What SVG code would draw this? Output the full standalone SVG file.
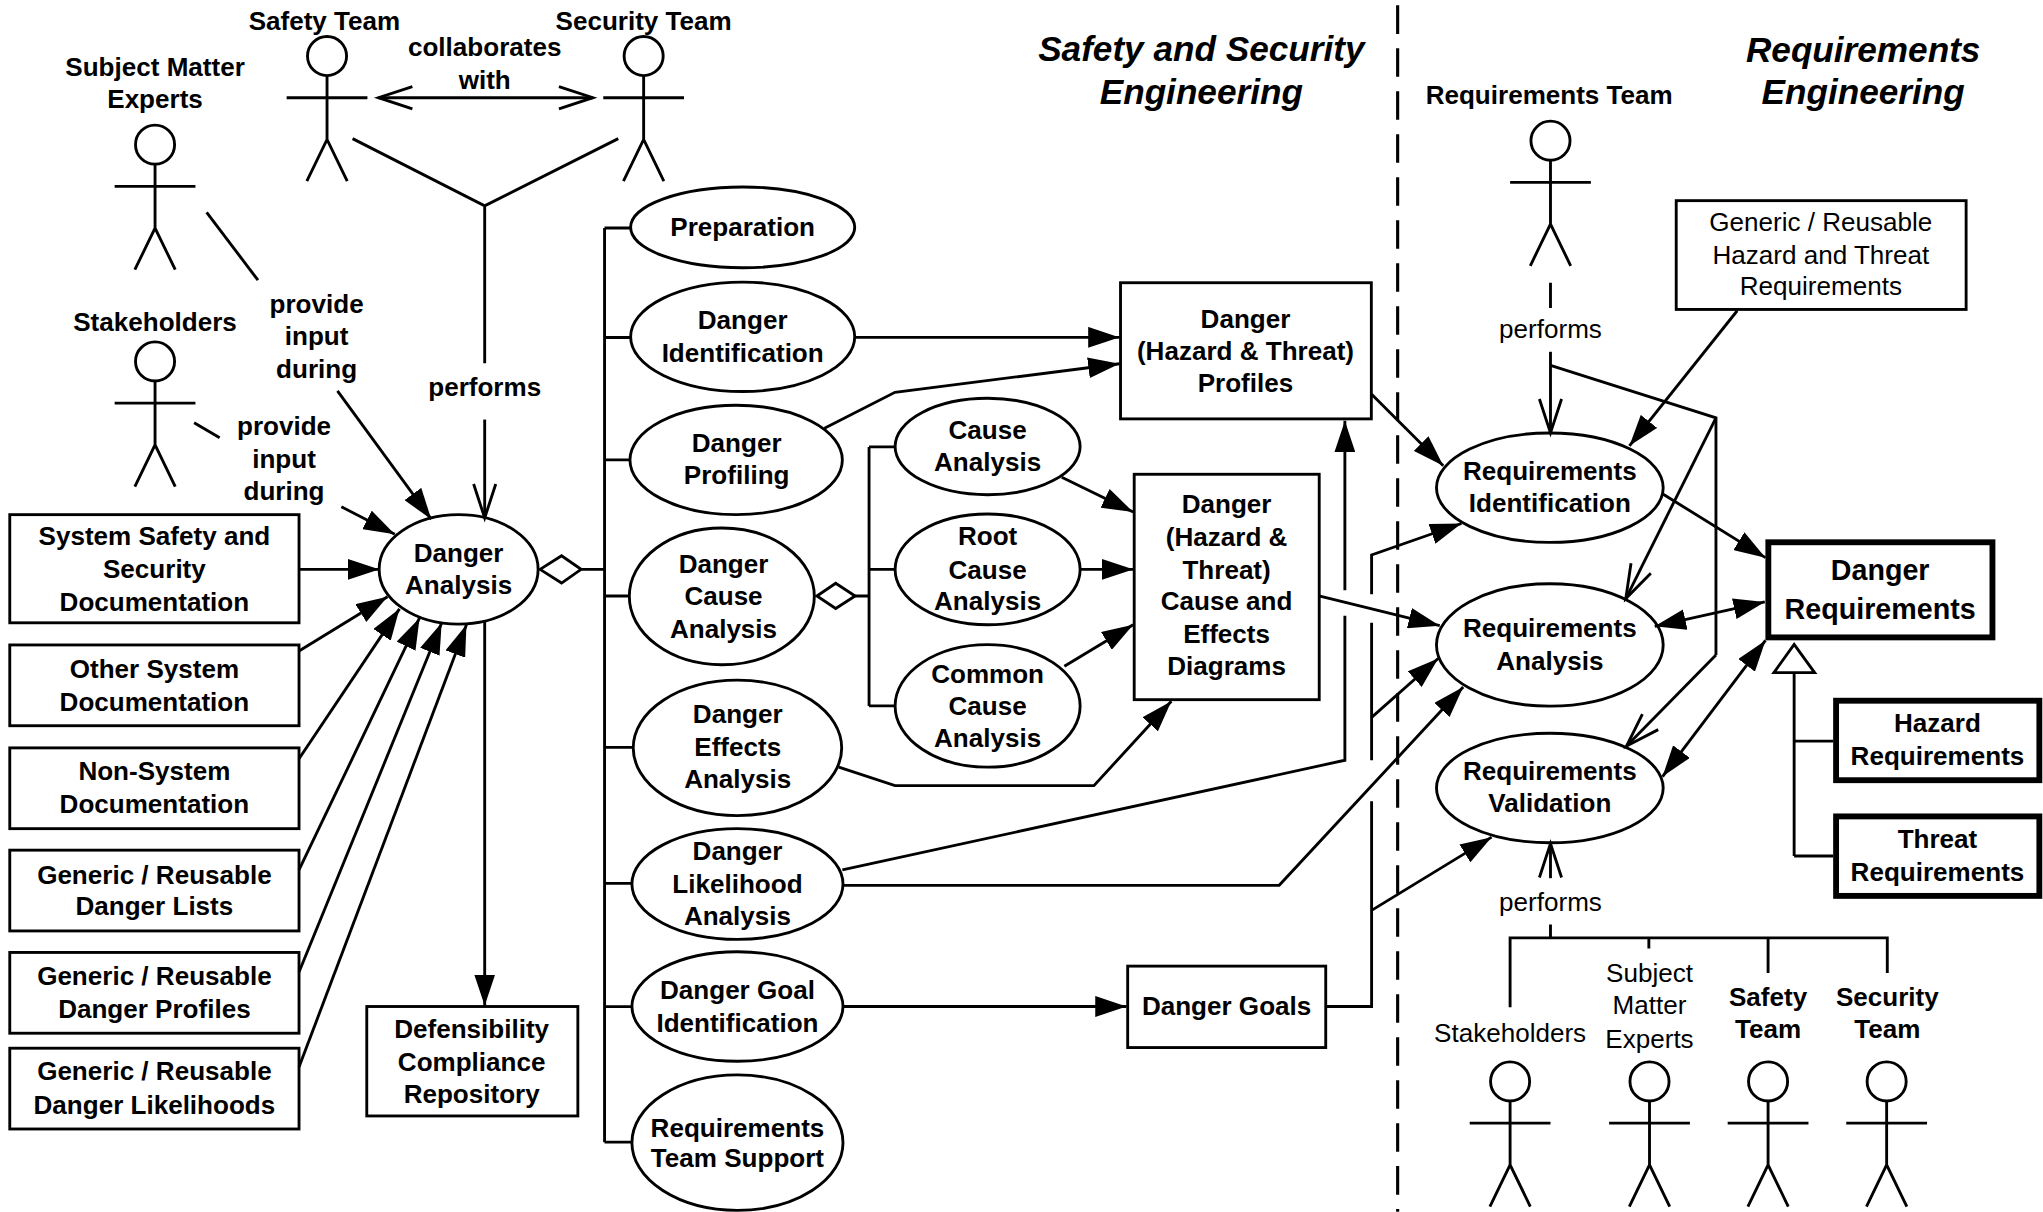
<svg xmlns="http://www.w3.org/2000/svg" width="2043" height="1212" viewBox="0 0 2043 1212">
<style>
.ln{stroke:#000;stroke-width:2.2;fill:none}
.sh{fill:#fff;stroke:#000;stroke-width:2.2}
.thick{fill:#fff;stroke:#000;stroke-width:4.5}
.t{font-family:"Liberation Sans",Arial,sans-serif;font-size:20px;font-weight:bold;text-anchor:middle;fill:#000}
.r{font-weight:normal}
.big{font-size:22px}
.title{font-size:27px;font-style:italic}
.dash{stroke:#000;stroke-width:2.4;fill:none;stroke-dasharray:22 11}
.fa{marker-end:url(#fa)}
.oa{marker-end:url(#oa)}
</style>
<defs>
<marker id="fa" markerUnits="userSpaceOnUse" viewBox="0 0 24 16" markerWidth="24" markerHeight="16" refX="24" refY="8" orient="auto-start-reverse"><path d="M0,0L24,8L0,16z" fill="#000"/></marker>
<marker id="oa" markerUnits="userSpaceOnUse" viewBox="-2 -2 30 21" markerWidth="30" markerHeight="21" refX="26" refY="8.5" orient="auto-start-reverse" style="overflow:visible"><path d="M0,0L26,8.5L0,17" fill="none" stroke="#000" stroke-width="2.2"/></marker>
<g id="stick"><circle cx="0" cy="0" r="15" class="sh"/><path class="ln" d="M0,15V64M-31,32H31M-15.5,96L0,64L15.5,96"/></g>
</defs>
<rect width="2043" height="1212" fill="#fff"/>
<g transform="scale(1.30293)">
<!-- titles -->
<g id="title-sse"><text class="t title" x="922" y="46.7">Safety and Security</text><text class="t title" x="922" y="79.7">Engineering</text></g>
<g id="title-re"><text class="t title" x="1430" y="47.7">Requirements</text><text class="t title" x="1430" y="80">Engineering</text></g>
<path id="divider" class="dash" d="M1072.7,4V930"/>

<!-- actors -->
<g id="actor-safety"><text class="t" x="249" y="23">Safety Team</text><use href="#stick" x="251" y="43"/></g>
<g id="actor-security"><text class="t" x="494" y="23">Security Team</text><use href="#stick" x="494" y="43"/></g>
<g id="actor-sme"><text class="t" x="119" y="58">Subject Matter</text><text class="t" x="119" y="83">Experts</text><use href="#stick" x="119" y="111"/></g>
<g id="actor-stakeholders"><text class="t" x="119" y="254">Stakeholders</text><use href="#stick" x="119" y="277.4"/></g>
<g id="actor-reqteam"><text class="t" x="1189" y="80">Requirements Team</text><use href="#stick" x="1190" y="108"/></g>
<g id="actor-stakeholders2"><text class="t r" x="1159" y="800">Stakeholders</text><use href="#stick" x="1159" y="830"/></g>
<g id="actor-sme2"><text class="t r" x="1266" y="753.7">Subject</text><text class="t r" x="1266" y="778.4">Matter</text><text class="t r" x="1266" y="804">Experts</text><use href="#stick" x="1266" y="830"/></g>
<g id="actor-safety2"><text class="t" x="1357" y="772">Safety</text><text class="t" x="1357" y="797">Team</text><use href="#stick" x="1357" y="830"/></g>
<g id="actor-security2"><text class="t" x="1448.5" y="772">Security</text><text class="t" x="1448.5" y="797">Team</text><use href="#stick" x="1448" y="830"/></g>

<!-- left document boxes -->
<g id="doc-sss"><rect class="sh" x="7.5" y="395" width="222" height="83"/><text class="t" x="118.5" y="418.6">System Safety and</text><text class="t" x="118.5" y="443.7">Security</text><text class="t" x="118.5" y="468.8">Documentation</text></g>
<g id="doc-other"><rect class="sh" x="7.5" y="495" width="222" height="62"/><text class="t" x="118.5" y="520.3">Other System</text><text class="t" x="118.5" y="545.8">Documentation</text></g>
<g id="doc-nonsys"><rect class="sh" x="7.5" y="574" width="222" height="62"/><text class="t" x="118.5" y="599">Non-System</text><text class="t" x="118.5" y="624">Documentation</text></g>
<g id="doc-lists"><rect class="sh" x="7.5" y="652.5" width="222" height="62"/><text class="t" x="118.5" y="678.2">Generic / Reusable</text><text class="t" x="118.5" y="702.6">Danger Lists</text></g>
<g id="doc-profiles"><rect class="sh" x="7.5" y="731" width="222" height="62"/><text class="t" x="118.5" y="755.9">Generic / Reusable</text><text class="t" x="118.5" y="781">Danger Profiles</text></g>
<g id="doc-likelihoods"><rect class="sh" x="7.5" y="804.5" width="222" height="62"/><text class="t" x="118.5" y="829.1">Generic / Reusable</text><text class="t" x="118.5" y="854.9">Danger Likelihoods</text></g>
<g id="defensibility"><rect class="sh" x="281.5" y="772.5" width="162" height="84"/><text class="t" x="362" y="796.7">Defensibility</text><text class="t" x="362" y="821.8">Compliance</text><text class="t" x="362" y="846.6">Repository</text></g>

<!-- activities -->
<g id="danger-analysis"><ellipse class="sh" cx="352" cy="437" rx="61" ry="42"/><text class="t" x="352" y="431">Danger</text><text class="t" x="352" y="456">Analysis</text></g>
<g id="preparation"><ellipse class="sh" cx="570" cy="174.5" rx="86" ry="31"/><text class="t" x="570" y="181.5">Preparation</text></g>
<g id="danger-identification"><ellipse class="sh" cx="570" cy="258.5" rx="86" ry="42"/><text class="t" x="570" y="252.8">Danger</text><text class="t" x="570" y="277.7">Identification</text></g>
<g id="danger-profiling"><ellipse class="sh" cx="565" cy="353" rx="81.5" ry="42"/><text class="t" x="565.4" y="347">Danger</text><text class="t" x="565.4" y="371.2">Profiling</text></g>
<g id="danger-cause-analysis"><ellipse class="sh" cx="554" cy="457.7" rx="71" ry="52.5"/><text class="t" x="555.3" y="439.5">Danger</text><text class="t" x="555.3" y="464.4">Cause</text><text class="t" x="555.3" y="489.6">Analysis</text></g>
<g id="danger-effects-analysis"><ellipse class="sh" cx="566" cy="574" rx="80" ry="52"/><text class="t" x="566.2" y="555">Danger</text><text class="t" x="566.2" y="580.2">Effects</text><text class="t" x="566.2" y="605">Analysis</text></g>
<g id="danger-likelihood-analysis"><ellipse class="sh" cx="566" cy="678.5" rx="81" ry="42.5"/><text class="t" x="566" y="660.4">Danger</text><text class="t" x="566" y="685.1">Likelihood</text><text class="t" x="566" y="709.9">Analysis</text></g>
<g id="danger-goal-identification"><ellipse class="sh" cx="566" cy="772.5" rx="81" ry="42"/><text class="t" x="566" y="766.4">Danger Goal</text><text class="t" x="566" y="791.9">Identification</text></g>
<g id="req-team-support"><ellipse class="sh" cx="566" cy="877" rx="81" ry="52"/><text class="t" x="566" y="872.6">Requirements</text><text class="t" x="566" y="896">Team Support</text></g>
<g id="cause-analysis"><ellipse class="sh" cx="758" cy="342.7" rx="71" ry="37"/><text class="t" x="758" y="337">Cause</text><text class="t" x="758" y="361.2">Analysis</text></g>
<g id="root-cause-analysis"><ellipse class="sh" cx="758" cy="437" rx="71" ry="42.5"/><text class="t" x="758" y="418.3">Root</text><text class="t" x="758" y="444">Cause</text><text class="t" x="758" y="468.3">Analysis</text></g>
<g id="common-cause-analysis"><ellipse class="sh" cx="758" cy="541.8" rx="71" ry="47"/><text class="t" x="758" y="523.9">Common</text><text class="t" x="758" y="548.8">Cause</text><text class="t" x="758" y="573">Analysis</text></g>

<!-- work products -->
<g id="danger-profiles"><rect class="sh" x="860" y="217" width="192.5" height="104.5"/><text class="t" x="955.9" y="252">Danger</text><text class="t" x="955.9" y="276.2">(Hazard &amp; Threat)</text><text class="t" x="955.9" y="300.5">Profiles</text></g>
<g id="cause-effects-diagrams"><rect class="sh" x="870.5" y="364" width="142" height="173"/><text class="t" x="941.4" y="394">Danger</text><text class="t" x="941.4" y="418.9">(Hazard &amp;</text><text class="t" x="941.4" y="444">Threat)</text><text class="t" x="941.4" y="468.3">Cause and</text><text class="t" x="941.4" y="493.2">Effects</text><text class="t" x="941.4" y="518.4">Diagrams</text></g>
<g id="danger-goals"><rect class="sh" x="865.5" y="741.5" width="152" height="62.5"/><text class="t" x="941.4" y="779">Danger Goals</text></g>

<!-- requirements side -->
<g id="generic-hazard-threat-reqs"><rect class="sh" x="1286.5" y="154" width="222.5" height="83.5"/><text class="t r" x="1397.5" y="177.3">Generic / Reusable</text><text class="t r" x="1397.5" y="202.3">Hazard and Threat</text><text class="t r" x="1397.5" y="226.7">Requirements</text></g>
<g id="req-identification"><ellipse class="sh" cx="1189.5" cy="374.3" rx="87" ry="42"/><text class="t" x="1189.5" y="368.5">Requirements</text><text class="t" x="1189.5" y="393">Identification</text></g>
<g id="req-analysis"><ellipse class="sh" cx="1189.5" cy="495" rx="87" ry="47"/><text class="t" x="1189.5" y="489">Requirements</text><text class="t" x="1189.5" y="514">Analysis</text></g>
<g id="req-validation"><ellipse class="sh" cx="1189.5" cy="604.8" rx="87" ry="42"/><text class="t" x="1189.5" y="598.7">Requirements</text><text class="t" x="1189.5" y="623.4">Validation</text></g>
<g id="danger-requirements"><rect class="thick" x="1357.2" y="416.2" width="172" height="73"/><text class="t big" x="1443" y="445.5">Danger</text><text class="t big" x="1443" y="474.7">Requirements</text></g>
<g id="hazard-requirements"><rect class="thick" x="1409.2" y="537.8" width="156" height="61"/><text class="t" x="1487" y="561.9">Hazard</text><text class="t" x="1487" y="587.3">Requirements</text></g>
<g id="threat-requirements"><rect class="thick" x="1409.2" y="626.6" width="156" height="61"/><text class="t" x="1487" y="651">Threat</text><text class="t" x="1487" y="676">Requirements</text></g>

<!-- connectors -->
<g id="connectors">
<path class="ln" d="M290.5,75H455" marker-start="url(#oa)" marker-end="url(#oa)"/>
<text class="t" x="372" y="43">collaborates</text><text class="t" x="372" y="68">with</text>
<path class="ln" d="M270.6,106.4L372,158L474.5,106.4M372,158V278.7"/>
<text class="t" x="372" y="304">performs</text>
<path class="ln oa" d="M372,322V397.5"/>
<path class="ln" d="M158.6,163L198,215"/>
<text class="t" x="243" y="240">provide</text><text class="t" x="243" y="265">input</text><text class="t" x="243" y="290">during</text>
<path class="ln fa" d="M259,300L331,398.5"/>
<path class="ln" d="M149,324.5L168.6,336"/>
<text class="t" x="218" y="334">provide</text><text class="t" x="218" y="359">input</text><text class="t" x="218" y="384">during</text>
<path class="ln fa" d="M262,389L303,410"/>
<path class="ln fa" d="M229.5,437H291"/>
<path class="ln fa" d="M229.5,499.7L297.4,458"/>
<path class="ln fa" d="M229.5,582.3L306.6,467.3"/>
<path class="ln fa" d="M229.5,667.7L322,474.3"/>
<path class="ln fa" d="M229.5,746L339,478"/>
<path class="ln fa" d="M229.5,819L358,479.5"/>
<path class="ln fa" d="M372,477V772"/>
<!-- aggregation bus -->
<path class="ln" d="M446,437H464M464,175V876.6M464,175H484M464,259H484M464,353H483.5M464,457.4H483M464,573.6H486M464,678H485M464,772.6H485M464,876.6H485"/>
<path class="sh" d="M414.5,437L431,426.6L446,437L431,447.5z"/>
<path class="ln" d="M656.3,457.4H667M667,343V541.8M667,343H687M667,437H687M667,541.8H687"/>
<path class="sh" d="M627,457.4L641.4,447.7L656.3,457.4L641.4,467z"/>
<!-- work product flows -->
<path class="ln fa" d="M656.3,258.9H859.2"/>
<path class="ln fa" d="M632.8,328.7L686.9,301.1L859.2,279.2"/>
<path class="ln fa" d="M814.9,366.3L869.7,393"/>
<path class="ln fa" d="M828.6,437H869.7"/>
<path class="ln fa" d="M816.9,511.4L869.7,479.5"/>
<path class="ln fa" d="M643.8,588.8L686.9,603H839.6L899,538.2"/>
<path class="ln fa" d="M646.5,667.7L1032.2,583.5V472.5M1032.2,453V323"/>
<path class="ln fa" d="M646.5,679.5H981.8L1123,527.3"/>
<path class="ln fa" d="M646.5,772.5H864.6"/>
<path class="ln fa" d="M1017.4,772.5H1052.7V615M1052.7,583.5V478M1052.7,456V425.9L1121.7,401.8"/>
<path class="ln fa" d="M1052.7,550.6L1103.8,505.4"/>
<path class="ln fa" d="M1052.7,698.7L1144.8,642.5"/>
<path class="ln fa" d="M1012.3,457.4L1105,480.2"/>
<path class="ln fa" d="M1052.7,302.6L1107.7,357.4"/>
<!-- requirements side -->
<path class="ln" d="M1190,217V236.4"/>
<text class="t r" x="1190" y="259.5">performs</text>
<path class="ln oa" d="M1190,270V332.2"/>
<path class="ln" d="M1190,280.5L1317,320.7V502.7"/>
<path class="ln oa" d="M1317,320.7L1247.8,459.4"/>
<path class="ln oa" d="M1317,502.7L1248.4,572.6"/>
<path class="ln fa" d="M1333.3,238.5L1250.6,342.2"/>
<path class="ln fa" d="M1276.5,379.3L1355,428"/>
<path class="ln fa" d="M1270,480.7L1354.5,462" marker-start="url(#fa)"/>
<path class="ln fa" d="M1276,596L1355,491.5" marker-start="url(#fa)"/>
<path class="ln oa" d="M1190,674V647.5"/>
<text class="t r" x="1190" y="699.5">performs</text>
<path class="ln" d="M1190,709.6V719.8M1159,773V719.8H1448.5V746.7M1265.5,719.8V728M1357,719.8V746.7"/>
<path class="ln" d="M1377,516.2V657M1377,568.8H1407M1377,657H1407"/>
<path class="sh" d="M1377,494.6L1392.7,516.2H1361.5z"/>
</g>
</g>
</svg>
